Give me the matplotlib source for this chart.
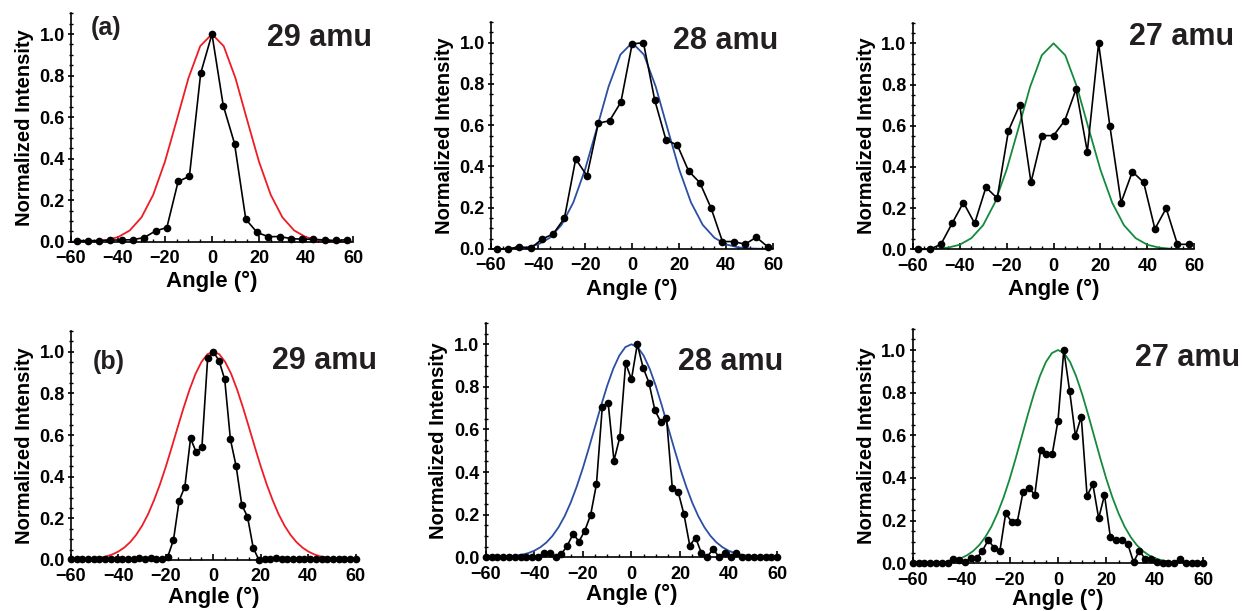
import matplotlib
matplotlib.use("Agg")
import matplotlib.pyplot as plt
from matplotlib.ticker import MultipleLocator

plt.rcParams['font.family'] = ['Liberation Sans', 'DejaVu Sans']
plt.rcParams['font.weight'] = 'bold'
plt.rcParams['axes.labelweight'] = 'bold'

# ---- top row (a): 4.8 deg steps ----
angle_a = [-57.6, -52.8, -48.0, -43.2, -38.4, -33.6, -28.8, -24.0, -19.2, -14.4, -9.6, -4.8, 0.0,
           4.8, 9.6, 14.4, 19.2, 24.0, 28.8, 33.6, 38.4, 43.2, 48.0, 52.8, 57.6]
a29 = [0.005, 0.005, 0.005, 0.008, 0.008, 0.01, 0.02, 0.052, 0.068, 0.29, 0.315, 0.811, 1.0,
       0.656, 0.473, 0.108, 0.045, 0.024, 0.025, 0.015, 0.012, 0.012, 0.008, 0.006, 0.01]
a28 = [0.0, 0.0, 0.011, 0.003, 0.047, 0.073, 0.149, 0.436, 0.355, 0.609, 0.622, 0.711, 0.994,
       1.0, 0.722, 0.528, 0.504, 0.378, 0.321, 0.197, 0.036, 0.036, 0.023, 0.057, 0.011]
a27 = [0.0, 0.0, 0.024, 0.126, 0.227, 0.126, 0.301, 0.248, 0.576, 0.701, 0.325, 0.552, 0.552,
       0.625, 0.777, 0.474, 1.0, 0.599, 0.227, 0.377, 0.325, 0.099, 0.199, 0.024, 0.024]

# fitted curves, read at 5 deg steps (half curve, symmetric)
fit_x_a = [-60, -55, -50, -45, -40, -35, -30, -25, -20, -15, -10, -5, 0,
           5, 10, 15, 20, 25, 30, 35, 40, 45, 50, 55, 60]
fit_a_half = [1.0, 0.942, 0.788, 0.585, 0.386, 0.226, 0.117, 0.054, 0.022, 0.008, 0.0026, 0.0007, 0.0002]

# ---- bottom row (b): 2.4 deg steps ----
angle_b = [-60.0, -57.6, -55.2, -52.8, -50.4, -48.0, -45.6, -43.2, -40.8, -38.4, -36.0, -33.6, -31.2,
           -28.8, -26.4, -24.0, -21.6, -19.2, -16.8, -14.4, -12.0, -9.6, -7.2, -4.8, -2.4, 0.0,
           2.4, 4.8, 7.2, 9.6, 12.0, 14.4, 16.8, 19.2, 21.6, 24.0, 26.4, 28.8, 31.2, 33.6, 36.0,
           38.4, 40.8, 43.2, 45.6, 48.0, 50.4, 52.8, 55.2, 57.6, 60.0]
b29 = [0.005, 0.005, 0.005, 0.005, 0.005, 0.005, 0.005, 0.005, 0.005, 0.005, 0.005, 0.005, 0.01,
       0.004, 0.01, 0.004, 0.003, 0.016, 0.096, 0.285, 0.352, 0.584, 0.517, 0.544, 0.968, 1.0,
       0.957, 0.867, 0.579, 0.451, 0.264, 0.208, 0.059, 0.0, 0.003, 0.003, 0.01, 0.004, 0.004, 0.004, 0.004,
       0.004, 0.004, 0.004, 0.004, 0.004, 0.004, 0.004, 0.004, 0.004, 0.004]
b28 = [0.003, 0.003, 0.003, 0.003, 0.003, 0.003, 0.003, 0.003, 0.003, 0.003, 0.019, 0.019, 0.003,
       0.016, 0.055, 0.11, 0.074, 0.125, 0.199, 0.344, 0.707, 0.726, 0.454, 0.563, 0.911, 0.836,
       1.0, 0.89, 0.82, 0.692, 0.637, 0.656, 0.327, 0.308, 0.202, 0.055, 0.092, 0.019, 0.003, 0.038, 0.003,
       0.019, 0.003, 0.022, 0.003, 0.003, 0.003, 0.003, 0.003, 0.003, 0.003]
b27 = [0.003, 0.003, 0.003, 0.003, 0.003, 0.003, 0.003, 0.02, 0.016, 0.008, 0.023, 0.023, 0.059,
       0.109, 0.073, 0.058, 0.234, 0.195, 0.195, 0.336, 0.355, 0.32, 0.531, 0.511, 0.511, 0.669,
       1.0, 0.808, 0.597, 0.688, 0.317, 0.37, 0.211, 0.32, 0.125, 0.109, 0.109, 0.091, 0.005, 0.059, 0.02,
       0.02, 0.005, 0.003, 0.003, 0.003, 0.02, 0.003, 0.003, 0.003, 0.003]

fit_x_b = [-60, -57.5, -55, -52.5, -50, -47.5, -45, -42.5, -40, -37.5, -35, -32.5, -30, -27.5, -25,
           -22.5, -20, -17.5, -15, -12.5, -10, -7.5, -5, -2.5, 0, 2.5, 5, 7.5, 10, 12.5, 15, 17.5,
           20, 22.5, 25, 27.5, 30, 32.5, 35, 37.5, 40, 42.5, 45, 47.5, 50, 52.5, 55, 57.5, 60]
fit_b29_half = [1.0, 0.988, 0.951, 0.894, 0.819, 0.732, 0.638, 0.542, 0.449, 0.363, 0.287, 0.220, 0.165,
                0.121, 0.0863, 0.060, 0.0408, 0.027, 0.0174, 0.011, 0.0067, 0.004, 0.0024, 0.0013, 0.0007]
fit_b28_half = [1.0, 0.987, 0.947, 0.885, 0.805, 0.712, 0.613, 0.514, 0.419, 0.333, 0.257, 0.193, 0.1413,
                0.1007, 0.0697, 0.047, 0.0309, 0.0197, 0.0123, 0.0074, 0.0044, 0.0025, 0.0014, 0.0008, 0.0004]
fit_b27_half = [1.0, 0.986, 0.944, 0.877, 0.792, 0.695, 0.593, 0.491, 0.394, 0.308, 0.234, 0.172, 0.1233,
                0.0857, 0.0579, 0.038, 0.0242, 0.015, 0.009, 0.0053, 0.003, 0.0016, 0.0009, 0.0005, 0.0002]


def full(half):
    return half[::-1] + half[1:]


red = '#ee1c25'
blue = '#2c4fa3'
green = '#148a3c'

panels = [
    # position, x, y, fit x, fit y, colour, label, label pos, tag, tag pos, xlabel pad
    ([0.0570, 0.6044, 0.2265, 0.3738], angle_a, a29, fit_x_a, full(fit_a_half), red, '29 amu', (23.4, 0.981), '(a)', (-51.5, 1.029), 3),
    ([0.3944, 0.5925, 0.2267, 0.3714], angle_a, a28, fit_x_a, full(fit_a_half), blue, '28 amu', (17.2, 1.009), None, None, 3),
    ([0.7331, 0.5920, 0.2262, 0.3708], angle_a, a27, fit_x_a, full(fit_a_half), green, '27 amu', (32.2, 1.032), None, None, 3),
    ([0.0570, 0.0835, 0.2287, 0.3749], angle_b, b29, fit_x_b, full(fit_b29_half), red, '29 amu', (24.6, 0.956), '(b)', (-51.0, 0.952), 1),
    ([0.3901, 0.0879, 0.2342, 0.3835], angle_b, b28, fit_x_b, full(fit_b28_half), blue, '28 amu', (19.3, 0.915), None, None, 1),
    ([0.7331, 0.0781, 0.2334, 0.3839], angle_b, b27, fit_x_b, full(fit_b27_half), green, '27 amu', (31.8, 0.965), None, None, 0),
]

fig = plt.figure(figsize=(12.45, 6.11), dpi=100)

for pos, x, y, fx, fy, col, lab, lpos, tag, tpos, xpad in panels:
    ax = fig.add_axes(pos)
    ax.plot(fx, fy, color=col, lw=1.3, zorder=2)
    ax.plot(x, y, color='black', lw=1.2, marker='o', ms=4.5, zorder=3, clip_on=False)
    ax.set_xlim(-60, 60)
    ax.set_ylim(0, 1.1)
    ax.xaxis.set_major_locator(MultipleLocator(20))
    ax.xaxis.set_minor_locator(MultipleLocator(5))
    ax.yaxis.set_minor_locator(MultipleLocator(0.05))
    ax.set_yticks([0, 0.2, 0.4, 0.6, 0.8, 1.0])
    ax.set_yticklabels(['0.0', '0.2', '0.4', '0.6', '0.8', '1.0'])
    for s in ['top', 'right']:
        ax.spines[s].set_visible(False)
    for s in ['left', 'bottom']:
        ax.spines[s].set_linewidth(1.2)
    ax.tick_params(axis='x', which='major', direction='in', length=4, width=1.2, labelsize=13, pad=6)
    ax.tick_params(axis='x', which='minor', direction='in', length=2.5, width=1.0)
    ax.tick_params(axis='y', which='major', direction='inout', length=5, width=1.2, labelsize=13, pad=2)
    ax.tick_params(axis='y', which='minor', direction='inout', length=3, width=1.0)
    ax.set_xlabel('Angle (°)', fontsize=16, labelpad=xpad)
    ax.set_ylabel('Normalized Intensity', fontsize=14.5, labelpad=4)
    ax.text(lpos[0], lpos[1], lab, fontsize=22, fontweight='bold', ha='left', va='center',
            color='#231f20', clip_on=False)
    if tag:
        ax.text(tpos[0], tpos[1], tag, fontsize=18, fontweight='bold', ha='left', va='center',
                color='#231f20', clip_on=False)

fig.savefig('out.png', dpi=100)
